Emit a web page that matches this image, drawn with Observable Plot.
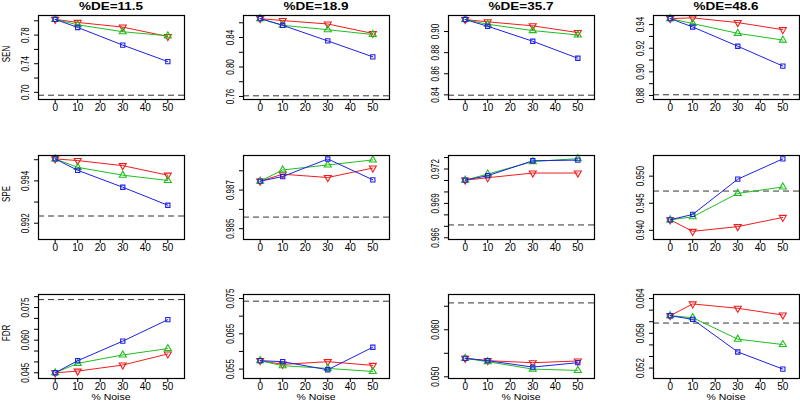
<!DOCTYPE html>
<html><head><meta charset="utf-8">
<script src="https://cdn.jsdelivr.net/npm/d3@7"></script>
<script src="https://cdn.jsdelivr.net/npm/@observablehq/plot@0.6"></script>
<style>
body{margin:0;background:#fff;}
#chart{position:relative;width:800px;height:401px;overflow:hidden;font-family:"Liberation Sans",Arial,sans-serif;color:#000;}
#chart svg{position:absolute;overflow:visible;}
.title{position:absolute;top:0px;font-weight:bold;font-size:13.5px;line-height:normal;transform:translateX(-50%) scaleY(0.8);transform-origin:50% 0;white-space:nowrap;}
.rowlab{position:absolute;font-size:10px;transform:translate(-50%,-50%) rotate(-90deg) scale(0.8,1);white-space:nowrap;}
.xlab{position:absolute;font-size:10.5px;line-height:8px;height:8px;transform:translate(-50%,-50%) scaleY(0.8);white-space:nowrap;}
</style></head>
<body><div id="chart"></div>
<script>
// ---- data ----
const noise = [0, 10, 30, 50];
const xTicks = [0, 10, 20, 30, 40, 50];
const deLabels = ["%DE=11.5", "%DE=18.9", "%DE=35.7", "%DE=48.6"];
const metrics = ["SEN", "SPE", "FDR"];
const xTitle = "% Noise";

const senRed   = [[0.802,0.7977,0.7912,0.778],[0.8657,0.863,0.8584,0.8455],[0.9114,0.9092,0.9054,0.899],[0.9451,0.9457,0.9417,0.9357]];
const senGreen = [[0.802,0.7944,0.7847,0.779],[0.8657,0.8566,0.8506,0.8441],[0.9114,0.9069,0.9009,0.8968],[0.9451,0.9409,0.9326,0.9269]];
const senBlue  = [[0.802,0.7907,0.766,0.743],[0.8657,0.8566,0.8354,0.8138],[0.9114,0.905,0.8908,0.8747],[0.9451,0.938,0.9217,0.9049]];
const senRef   = [0.696, 0.7609, 0.8397, 0.8806];

const speRed   = [[0.99504,0.99496,0.99472,0.99427],[0.98746,0.98782,0.98765,0.98814],[0.97103,0.97124,0.97165,0.97165],[0.94194,0.93981,0.94069,0.94238]];
const speGreen = [[0.99504,0.99464,0.99427,0.99402],[0.98746,0.98804,0.9883,0.98856],[0.97103,0.97156,0.97265,0.97291],[0.94194,0.9425,0.94681,0.948]];
const speBlue  = [[0.99504,0.9945,0.9937,0.99285],[0.98746,0.9877,0.98861,0.98753],[0.97103,0.97142,0.97272,0.97278],[0.94194,0.94294,0.94944,0.95319]];
const speRef   = [0.99234, 0.9856, 0.96712, 0.94725];

const fdrRed   = [[0.045,0.04577,0.04856,0.05366],[0.05738,0.05633,0.0571,0.05605],[0.05393,0.05343,0.053,0.05336],[0.06104,0.06307,0.06232,0.06116]];
const fdrGreen = [[0.045,0.04933,0.0532,0.05613],[0.05738,0.05595,0.05519,0.05433],[0.05393,0.05321,0.05164,0.05136],[0.06104,0.0607,0.05699,0.05606]];
const fdrBlue  = [[0.045,0.05056,0.05954,0.06943],[0.05738,0.0571,0.05481,0.0612],[0.05393,0.05343,0.05207,0.053],[0.06104,0.06041,0.05478,0.05183]];
const fdrRef   = [0.07866, 0.07424, 0.06571, 0.05977];

// y tick positions and which of them carry a label
const senTicks = [[0.70,0.72,0.74,0.76,0.78,0.80],[0.76,0.78,0.80,0.82,0.84,0.86],[0.84,0.86,0.88,0.90],[0.88,0.89,0.90,0.91,0.92,0.93,0.94]];
const senTickLabels = [["0.70","0.74","0.78"],["0.76","0.80","0.84"],["0.84","0.86","0.88","0.90"],["0.88","0.90","0.92","0.94"]];
const speTicks = [[0.992,0.993,0.994,0.995],[0.985,0.986,0.987,0.988],[0.966,0.967,0.968,0.969,0.970,0.971,0.972,0.973],[0.940,0.945,0.950]];
const speTickLabels = [["0.992","0.994"],["0.985","0.987"],["0.966","0.969","0.972"],["0.940","0.945","0.950"]];
const fdrTicks = [[0.045,0.050,0.055,0.060,0.065,0.070,0.075,0.080],[0.055,0.060,0.065,0.070,0.075],[0.050,0.055,0.060,0.065],[0.052,0.054,0.056,0.058,0.060,0.062,0.064]];
const fdrTickLabels = [["0.045","0.060","0.075"],["0.055","0.065","0.075"],["0.050","0.060"],["0.052","0.058","0.064"]];

// y scale domains
const senDomains = [[0.690,0.8074],[0.7559,0.8699],[0.8356,0.9152],[0.8766,0.9477]];
const speDomains = [[0.99123,0.9952],[0.98444,0.98879],[0.96585,0.97318],[0.93831,0.95381]];
const fdrDomains = [[0.04237,0.0810],[0.05233,0.07614],[0.04964,0.0675],[0.0502,0.0647]];
const xDomain = [-7.4, 57.4];

// ---- layout ----
const colLeft = [38, 243, 448, 653];
const rowTop = [15, 155, 294];
const boxW = 146, boxH = 84;
const mL = 34, mR = 2, mT = 3, mB = 16;
const colors = {red: "#f21c1c", green: "#1fbf1f", blue: "#2020e6"};

const rowsData = [
  {red: senRed, green: senGreen, blue: senBlue, ref: senRef, ticks: senTicks, labels: senTickLabels, dom: senDomains, fmt: d3.format(".2f")},
  {red: speRed, green: speGreen, blue: speBlue, ref: speRef, ticks: speTicks, labels: speTickLabels, dom: speDomains, fmt: d3.format(".3f")},
  {red: fdrRed, green: fdrGreen, blue: fdrBlue, ref: fdrRef, ticks: fdrTicks, labels: fdrTickLabels, dom: fdrDomains, fmt: d3.format(".3f")}
];

const chart = document.getElementById("chart");

function seriesMarks(vals, color, symbol, rotate, r) {
  const data = noise.map((x, i) => ({x, y: vals[i]}));
  return [
    Plot.line(data, {x: "x", y: "y", stroke: color, strokeWidth: 1}),
    Plot.dot(data, {x: "x", y: "y", stroke: color, fill: "none", symbol, rotate, r, strokeWidth: 1.1})
  ];
}

rowsData.forEach((R, ri) => {
  for (let ci = 0; ci < 4; ci++) {
    const labs = R.labels[ci];
    const svg = Plot.plot({
      width: mL + boxW + mR,
      height: mT + boxH + mB,
      marginLeft: mL, marginRight: mR, marginTop: mT, marginBottom: mB,
      x: {domain: xDomain},
      y: {domain: R.dom[ci]},
      style: {fontFamily: "'Liberation Sans', Arial, sans-serif", fontSize: "10px", background: "transparent", color: "#000"},
      marks: [
        Plot.ruleY([R.ref[ci]], {stroke: "#333", strokeWidth: 1, strokeDasharray: "6,4"}),
        ...seriesMarks(R.red[ci], colors.red, "triangle", 180, 2.6),
        ...seriesMarks(R.green[ci], colors.green, "triangle", 0, 2.6),
        ...seriesMarks(R.blue[ci], colors.blue, "square", 0, 2.4),
        Plot.axisX({ticks: xTicks, tickSize: 4, tickPadding: 0, label: null, tickFormat: d3.format("d")}),
        Plot.axisY({ticks: R.ticks[ci], tickSize: 4, tickPadding: 6, tickRotate: -90, label: null,
          tickFormat: d => labs.includes(R.fmt(d)) ? R.fmt(d) : ""}),
        Plot.frame({stroke: "#000", strokeWidth: 1.2})
      ]
    });
    svg.style.left = (colLeft[ci] - mL) + "px";
    svg.style.top = (rowTop[ri] - mT) + "px";
    d3.select(svg).selectAll('g[aria-label="y-axis tick label"] text').each(function() {
      const t = this.getAttribute("transform");
      if (t) this.setAttribute("transform", t + " scale(0.8,1)");
    });
    chart.appendChild(svg);
  }
});

// titles
deLabels.forEach((t, ci) => {
  const d = document.createElement("div");
  d.className = "title";
  d.textContent = t;
  d.style.left = (colLeft[ci] + boxW / 2) + "px";
  chart.appendChild(d);
});
// row labels
metrics.forEach((m, ri) => {
  const d = document.createElement("div");
  d.className = "rowlab";
  d.textContent = m;
  d.style.left = "6px";
  d.style.top = (rowTop[ri] + boxH / 2 - 3) + "px";
  chart.appendChild(d);
});
// x axis titles under bottom row
colLeft.forEach(l => {
  const d = document.createElement("div");
  d.className = "xlab";
  d.textContent = xTitle;
  d.style.left = (l + boxW / 2) + "px";
  d.style.top = "396.5px";
  chart.appendChild(d);
});
</script></body></html>
